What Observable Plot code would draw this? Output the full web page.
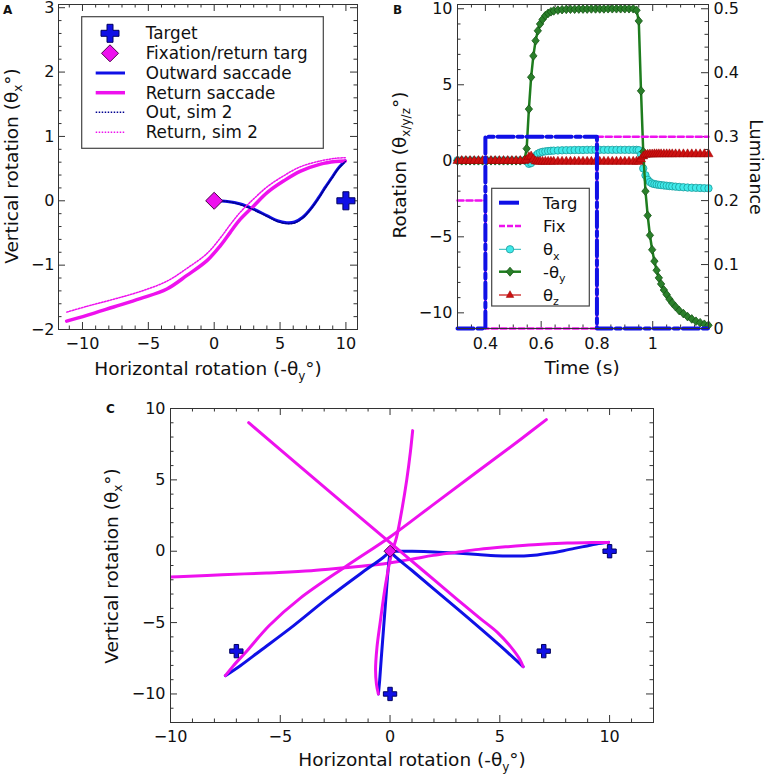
<!DOCTYPE html>
<html><head><meta charset="utf-8">
<script src="https://cdn.jsdelivr.net/npm/d3@7"></script>
<script src="https://cdn.jsdelivr.net/npm/@observablehq/plot@0.6"></script>
<style>
body{margin:0;background:#fff;}
#chart{position:relative;width:768px;height:775px;background:#fff;overflow:hidden;font-family:"DejaVu Sans",sans-serif;}
#chart svg{position:absolute;}
</style></head><body><div id="chart"></div>
<script>
// ---------- Panel A data ----------
const outX = [0, 1.0, 2.0, 3.0, 4.0, 4.8, 5.5, 6.1, 6.7, 7.3, 7.9, 8.4, 8.9, 9.4, 9.95];
const outY = [0, -0.01, -0.05, -0.13, -0.23, -0.31, -0.34, -0.33, -0.26, -0.13, 0.04, 0.2, 0.35, 0.5, 0.62];
const outSim2Y = [0, -0.01, -0.06, -0.14, -0.24, -0.32, -0.355, -0.345, -0.27, -0.14, 0.03, 0.19, 0.34, 0.49, 0.61];
const retX = [9.95, 9.2, 8.07, 6.56, 5.29, 4.04, 3.0, 1.97, 1.22, 0.46, -0.55, -2.07, -3.59, -5.62, -7.64, -9.67, -11.2];
const retY = [0.62, 0.61, 0.57, 0.46, 0.31, 0.13, -0.08, -0.29, -0.49, -0.70, -0.93, -1.16, -1.37, -1.52, -1.65, -1.78, -1.87];
const retSim2Y = [0.67, 0.66, 0.62, 0.53, 0.39, 0.22, 0.03, -0.18, -0.37, -0.58, -0.82, -1.05, -1.25, -1.41, -1.53, -1.64, -1.73];
const targetA = [10, 0];
const fixA = [0, 0];

// ---------- Panel B data ----------
const tB = [0.3, 0.315, 0.33, 0.345, 0.36, 0.375, 0.39, 0.405, 0.42, 0.435, 0.45, 0.465, 0.48, 0.495, 0.51, 0.525, 0.54,
  0.548, 0.556, 0.564, 0.572, 0.58, 0.588, 0.596, 0.605, 0.615, 0.625, 0.635, 0.645, 0.66, 0.675,
  0.69, 0.705, 0.72, 0.735, 0.75, 0.765, 0.78, 0.795, 0.81, 0.825, 0.84, 0.855, 0.87, 0.885, 0.9, 0.915, 0.93, 0.942,
  0.95, 0.958, 0.966, 0.974, 0.982, 0.99, 0.998, 1.006, 1.014, 1.022, 1.03, 1.04, 1.05, 1.06, 1.07, 1.082, 1.095, 1.11, 1.125, 1.14, 1.155, 1.17, 1.185, 1.2];
const thetaX = [0.03, 0.03, 0.03, 0.03, 0.03, 0.03, 0.03, 0.03, 0.03, 0.03, 0.03, 0.03, 0.03, 0.03, 0.03, 0.03, 0.03,
  0.0, -0.2, -0.15, 0.1, 0.32, 0.46, 0.54, 0.59, 0.62, 0.64, 0.66, 0.67, 0.68, 0.69,
  0.7, 0.7, 0.71, 0.71, 0.71, 0.72, 0.72, 0.72, 0.72, 0.72, 0.72, 0.72, 0.72, 0.72, 0.72, 0.72, 0.72, 0.72,
  0.7, 0.4, -0.5, -0.95, -1.25, -1.4, -1.49, -1.53, -1.56, -1.58, -1.6, -1.62, -1.64, -1.66, -1.68, -1.7, -1.72, -1.74, -1.76, -1.77, -1.78, -1.79, -1.8, -1.81];
const negThetaY = [0, 0, 0, 0, 0, 0, 0, 0, 0, 0, 0, 0, 0, 0, 0, 0, 0.05,
  0.8, 3.4, 5.5, 6.9, 7.9, 8.55, 9.0, 9.3, 9.55, 9.7, 9.8, 9.86, 9.91, 9.94,
  9.96, 9.97, 9.97, 9.98, 9.98, 9.98, 9.99, 9.99, 9.99, 9.99, 10, 10, 10, 10, 10, 10, 10, 9.9,
  9.2, 4.6, 0.6, -2.0, -3.6, -4.9, -5.85, -6.6, -7.2, -7.7, -8.1, -8.5, -8.8, -9.1, -9.35, -9.6, -9.85, -10.05, -10.25, -10.4, -10.55, -10.65, -10.75, -10.82];
const thetaZ = [0, 0, 0, 0, 0, 0, 0, 0, 0, 0, 0, 0, 0, 0, 0, 0, 0,
  0.05, 0.25, 0.3, 0.1, -0.03, -0.05, -0.05, -0.05, -0.05, -0.05, -0.05, -0.05, -0.05, -0.05,
  -0.05, -0.05, -0.05, -0.05, -0.05, -0.05, -0.05, -0.05, -0.05, -0.05, -0.05, -0.05, -0.05, -0.05, -0.05, -0.05, -0.05, -0.05,
  -0.05, 0.1, 0.3, 0.4, 0.42, 0.43, 0.43, 0.44, 0.44, 0.44, 0.44, 0.44, 0.44, 0.44, 0.44, 0.44, 0.44, 0.44, 0.44, 0.44, 0.44, 0.44, 0.44, 0.44];
const lumT = [0.3, 0.4, 0.4, 0.8, 0.8, 1.2];
const targLum = [0, 0, 0.3, 0.3, 0, 0];
const fixLum = [0.2, 0.2, 0, 0, 0.3, 0.3];

// ---------- Panel C data ----------
const out2X = [0, 0.25, 1, 2, 3.5, 5, 6.06];
const out2Y = [0, -0.4, -1.35, -2.65, -4.6, -6.6, -8.09];
const ret2X = [6.06, 5.9, 5.5, 4.9, 4.1, 3, 1.5, 0, -2, -4, -6.44];
const ret2Y = [-8.09, -7.55, -6.7, -5.7, -4.7, -3.3, -1.35, 0.6, 3.2, 5.8, 9.01];
const out3X = [0, -0.3, -1.36, -2.88, -4.39, -5.91, -6.82, -7.5];
const out3Y = [0, -0.42, -1.59, -3.34, -5.21, -6.97, -8.02, -8.72];
const ret3X = [-7.5, -7.15, -6.5, -5.5, -4.1, -2, 0, 2, 4, 6, 7.12];
const ret3Y = [-8.72, -8.05, -6.95, -5.2, -3.3, -1.05, 1.0, 3.3, 5.6, 7.9, 9.22];
const out4X = [0, -0.1, -0.2, -0.3, -0.4, -0.47, -0.53];
const out4Y = [0, -1.5, -3.5, -5.5, -7.5, -9, -10];
const ret4X = [-0.53, -0.62, -0.66, -0.6, -0.45, -0.2, 0.05, 0.3, 0.55, 0.76, 0.93, 1.03];
const ret4Y = [-10, -9.3, -8.3, -6.8, -5.0, -2.3, -0.3, 1.0, 3.0, 5.0, 7.0, 8.45];
const targetsCX = [10, 7, -7, 0];
const targetsCY = [0, -7, -7, -10];

// ---------- tick labels ----------
const xTicksA = [-10, -5, 0, 5, 10], yTicksA = [-2, -1, 0, 1, 2, 3];
const xTicksB = [0.4, 0.6, 0.8, 1], yTicksB = [-10, -5, 0, 5, 10], lumTicksB = [0, 0.1, 0.2, 0.3, 0.4, 0.5];
const xTicksC = [-10, -5, 0, 5, 10], yTicksC = [-10, -5, 0, 5, 10];

// ---------- styling ----------
const BLUE = "#1010e6", MAG = "#ee11ee", NAVY = "#000090", INK = "#333";
const FONT = "DejaVu Sans";
const fmt = d => (d < 0 ? "\u2212" + Math.abs(d) : String(d));
const zip = (xs, ys) => xs.map((x, i) => ({x, y: ys[i]}));
const diamond = (wf) => ({draw(ctx, size) {
  const h = Math.sqrt(size / Math.PI) * 1.2, w = h * wf;
  ctx.moveTo(0, -h); ctx.lineTo(w, 0); ctx.lineTo(0, h); ctx.lineTo(-w, 0); ctx.closePath();
}});
const minor = (a, b, step, maj) => d3.range(Math.round(a / step), Math.round(b / step) + 1)
  .map(k => +(k * step).toFixed(6)).filter(v => Math.abs(v / maj - Math.round(v / maj)) > 1e-6);
const inside = (vals, d) => vals.filter(v => v > d[0] + 1e-9 && v < d[1] - 1e-9);

function tickRules(xd, yd, xGroups, yLeft, yRight) {
  const [x0, x1] = xd, [y0, y1] = yd, s = {stroke: INK, strokeWidth: 1};
  const out = [];
  for (const [vals, len] of xGroups) {
    const v = inside(vals, xd);
    out.push(Plot.ruleX(v, {x: d => d, y1: () => y1, y2: () => y1, insetBottom: -len, ...s}));
    out.push(Plot.ruleX(v, {x: d => d, y1: () => y0, y2: () => y0, insetTop: -len, ...s}));
  }
  for (const [vals, len] of yLeft) out.push(Plot.ruleY(inside(vals, yd), {y: d => d, x1: () => x0, x2: () => x0, insetRight: -len, ...s}));
  for (const [vals, len] of yRight) out.push(Plot.ruleY(inside(vals, yd), {y: d => d, x1: () => x1, x2: () => x1, insetLeft: -len, ...s}));
  return out;
}
const style = {fontFamily: FONT, fontSize: "16px", background: "transparent", overflow: "visible"};
const chart = document.getElementById("chart");
function place(svg, left, top) { svg.style.left = left + "px"; svg.style.top = top + "px"; chart.appendChild(svg); }

// ---------- Panel A ----------
{
  const xd = [-11.82, 10.88], yd = [-2.0, 3.05];
  const plot = Plot.plot({
    width: 380, height: 380, marginLeft: 58, marginRight: 23, marginTop: 4, marginBottom: 51,
    x: {domain: xd, axis: null}, y: {domain: yd, axis: null}, style,
    marks: [
      ...tickRules(xd, yd, [[xTicksA, 7], [minor(-12, 11, 1, 5), 3.5]], [[yTicksA, 7], [minor(-2, 3, 0.2, 1), 3.5]], [[yTicksA, 7], [minor(-2, 3, 0.2, 1), 3.5]]),
      Plot.line(zip(outX, outY), {x: "x", y: "y", stroke: BLUE, strokeWidth: 3, curve: "catmull-rom"}),
      Plot.line(zip(retX, retY), {x: "x", y: "y", stroke: MAG, strokeWidth: 3.5, curve: "catmull-rom"}),
      Plot.line(zip(outX, outSim2Y), {x: "x", y: "y", stroke: NAVY, strokeWidth: 1.5, strokeDasharray: "1.5,1.5", curve: "catmull-rom"}),
      Plot.line(zip(retX, retSim2Y), {x: "x", y: "y", stroke: MAG, strokeWidth: 1.5, strokeDasharray: "1.5,1.5", curve: "catmull-rom"}),
      Plot.dot([targetA], {x: d => d[0], y: d => d[1], symbol: "cross", r: 7.6, fill: BLUE, stroke: "#000060", strokeWidth: 1}),
      Plot.dot([fixA], {x: d => d[0], y: d => d[1], symbol: diamond(1), r: 7.1, fill: MAG, stroke: "#4a004a", strokeWidth: 1}),
      Plot.frame({stroke: INK, strokeWidth: 1}),
      Plot.text(xTicksA, {x: d => d, y: () => yd[0], text: fmt, lineAnchor: "top", dy: 8, fontSize: 16, fill: "#111"}),
      Plot.text(yTicksA, {x: () => xd[0], y: d => d, text: fmt, textAnchor: "end", dx: -4, fontSize: 16, fill: "#111"})
    ]
  });
  place(plot, 0, 0);
}

// ---------- Panel B ----------
{
  const xd = [0.3, 1.2], yd = [-11.03, 10.28];
  const R0 = -11.03, R1 = 10.0; // luminance 0 and 0.5 on the rotation axis
  const lum2rot = l => R0 + l * (R1 - R0) / 0.5;
  const tbl = tB.map((t, i) => ({t, x: thetaX[i], y: negThetaY[i], z: thetaZ[i]}));
  const targ = lumT.map((t, i) => ({t, v: lum2rot(targLum[i])}));
  const fix = lumT.map((t, i) => ({t, v: lum2rot(fixLum[i])}));
  const plot = Plot.plot({
    width: 388, height: 380, marginLeft: 77, marginRight: 60, marginTop: 4, marginBottom: 52,
    x: {domain: xd, axis: null}, y: {domain: yd, axis: null}, style,
    marks: [
      ...tickRules(xd, yd, [[xTicksB, 7], [minor(0.3, 1.2, 0.05, 0.2), 3.5]],
        [[yTicksB, 7], [minor(-11, 10, 1, 5), 3.5]],
        [[lumTicksB.map(lum2rot), 7], [minor(0, 0.5, 0.02, 0.1).map(lum2rot), 3.5]]),
      Plot.line(tbl, {x: "t", y: "x", stroke: "#22b8b8", strokeWidth: 1}),
      Plot.dot(tbl, {x: "t", y: "x", r: 3.7, fill: "#40eaea", stroke: "#1a9a9a", strokeWidth: 0.8}),
      Plot.line(tbl, {x: "t", y: "y", stroke: "#1e7d1e", strokeWidth: 2.5}),
      Plot.dot(tbl, {x: "t", y: "y", symbol: diamond(0.85), r: 3.6, fill: "#2a7f2a", stroke: "#155515", strokeWidth: 0.8}),
      Plot.line(tbl, {x: "t", y: "z", stroke: "#c81010", strokeWidth: 1.2}),
      Plot.dot(tbl, {x: "t", y: "z", symbol: "triangle", r: 3.4, fill: "#cc1111", stroke: "#990000", strokeWidth: 0.5}),
      Plot.line(fix, {x: "t", y: "v", stroke: MAG, strokeWidth: 2.5, strokeDasharray: "6,3"}),
      Plot.line(targ, {x: "t", y: "v", stroke: BLUE, strokeWidth: 4, strokeDasharray: "16,4,5,4"}),
      Plot.frame({stroke: INK, strokeWidth: 1}),
      Plot.text(xTicksB, {x: d => d, y: () => yd[0], text: fmt, lineAnchor: "top", dy: 9, fontSize: 16, fill: "#111"}),
      Plot.text(yTicksB, {x: () => xd[0], y: d => d, text: fmt, textAnchor: "end", dx: -5, fontSize: 16, fill: "#111"}),
      Plot.text(lumTicksB, {x: () => xd[1], y: d => lum2rot(d), text: d => String(d), textAnchor: "start", dx: 5, fontSize: 16, fill: "#111"})
    ]
  });
  place(plot, 380, 0);
}

// ---------- Panel C ----------
{
  const xd = [-10, 12], yd = [-12, 10];
  const pairs = [[outX, outY, retX, retY], [out2X, out2Y, ret2X, ret2Y], [out3X, out3Y, ret3X, ret3Y], [out4X, out4Y, ret4X, ret4Y]];
  const lines = [];
  for (const [ox, oy, rx, ry] of pairs) {
    lines.push(Plot.line(zip(ox, oy), {x: "x", y: "y", stroke: BLUE, strokeWidth: 3, curve: "catmull-rom", clip: true}));
    lines.push(Plot.line(zip(rx, ry), {x: "x", y: "y", stroke: MAG, strokeWidth: 3, curve: "catmull-rom", clip: true}));
  }
  const plot = Plot.plot({
    width: 768, height: 395, marginLeft: 170, marginRight: 115, marginTop: 28, marginBottom: 53,
    x: {domain: xd, axis: null}, y: {domain: yd, axis: null}, style,
    marks: [
      ...tickRules(xd, yd, [[xTicksC, 7], [minor(-10, 12, 1, 5), 3.5]], [[yTicksC, 7], [minor(-12, 10, 1, 5), 3.5]], [[yTicksC, 7], [minor(-12, 10, 1, 5), 3.5]]),
      ...lines,
      Plot.dot(zip(targetsCX, targetsCY), {x: "x", y: "y", symbol: "cross", r: 5.6, fill: BLUE, stroke: "#000060", strokeWidth: 1}),
      Plot.dot([fixA], {x: d => d[0], y: d => d[1], symbol: diamond(1), r: 5, fill: MAG, stroke: "#4a004a", strokeWidth: 1}),
      Plot.frame({stroke: INK, strokeWidth: 1}),
      Plot.text(xTicksC, {x: d => d, y: () => yd[0], text: fmt, lineAnchor: "top", dy: 8, fontSize: 16, fill: "#111"}),
      Plot.text(yTicksC, {x: () => xd[0], y: d => d, text: fmt, textAnchor: "end", dx: -5, fontSize: 16, fill: "#111"})
    ]
  });
  place(plot, 0, 380);
}

// ---------- overlay: titles, panel letters, legends ----------
const sub = (s, fs = 12) => `<tspan dy="4.5" font-size="${fs}">${s}</tspan><tspan dy="-4.5">`;
const TF = 18.5;
const ov = `
<svg xmlns="http://www.w3.org/2000/svg" width="768" height="775" style="left:0;top:0" font-family="${FONT}" fill="#111">
  <text x="3" y="14" font-size="12" font-weight="bold">A</text>
  <text x="393" y="13.5" font-size="12" font-weight="bold">B</text>
  <text x="106" y="413" font-size="12" font-weight="bold">C</text>
  <text transform="translate(17.5,166) rotate(-90)" text-anchor="middle" font-size="${TF}">Vertical rotation (θ${sub("x")}°)</tspan></text>
  <text x="208" y="375" text-anchor="middle" font-size="${TF}">Horizontal rotation (-θ${sub("y")}°)</tspan></text>
  <text transform="translate(405.5,165) rotate(-90)" text-anchor="middle" font-size="${TF}">Rotation (θ${sub("x/y/z")}°)</tspan></text>
  <text x="582" y="374" text-anchor="middle" font-size="${TF}">Time (s)</text>
  <text transform="translate(750,167) rotate(90)" text-anchor="middle" font-size="17.5">Luminance</text>
  <text transform="translate(117.5,566) rotate(-90)" text-anchor="middle" font-size="${TF}">Vertical rotation (θ${sub("x")}°)</tspan></text>
  <text x="412" y="766" text-anchor="middle" font-size="${TF}">Horizontal rotation (-θ${sub("y")}°)</tspan></text>

  <rect x="81.7" y="16.7" width="241.6" height="131.6" fill="#fff" stroke="#444" stroke-width="1.2"/>
  <path transform="translate(110,33.3)" d="M-9,-3h6v-6h6v6h6v6h-6v6h-6v-6h-6z" fill="${BLUE}" stroke="#000060"/>
  <path transform="translate(110,53.3)" d="M0,-8.5L8.5,0L0,8.5L-8.5,0Z" fill="${MAG}" stroke="#4a004a"/>
  <line x1="95.7" x2="125" y1="73" y2="73" stroke="${BLUE}" stroke-width="3"/>
  <line x1="95.7" x2="125" y1="92.7" y2="92.7" stroke="${MAG}" stroke-width="3.5"/>
  <line x1="95.7" x2="125" y1="112.3" y2="112.3" stroke="${NAVY}" stroke-width="1.5" stroke-dasharray="1.5,1.5"/>
  <line x1="95.7" x2="125" y1="132.3" y2="132.3" stroke="${MAG}" stroke-width="1.5" stroke-dasharray="1.5,1.5"/>
  <g font-size="16.8">
    <text x="145.7" y="39">Target</text>
    <text x="145.7" y="59">Fixation/return targ</text>
    <text x="145.7" y="78.8">Outward saccade</text>
    <text x="145.7" y="98.5">Return saccade</text>
    <text x="145.7" y="118">Out, sim 2</text>
    <text x="145.7" y="138">Return, sim 2</text>
  </g>

  <rect x="491.7" y="188.3" width="97.6" height="117.7" fill="#fff" stroke="#444" stroke-width="1.2"/>
  <line x1="499" x2="519" y1="202.7" y2="202.7" stroke="${BLUE}" stroke-width="4"/>
  <line x1="499" x2="521" y1="226" y2="226" stroke="${MAG}" stroke-width="2.5" stroke-dasharray="6,2"/>
  <line x1="499" x2="521" y1="249.3" y2="249.3" stroke="#22b8b8" stroke-width="1"/>
  <circle cx="510" cy="249.3" r="3.7" fill="#40eaea" stroke="#1a9a9a" stroke-width="0.8"/>
  <line x1="499" x2="521" y1="271.7" y2="271.7" stroke="#1e7d1e" stroke-width="2.5"/>
  <path transform="translate(510,271.7)" d="M0,-4.5L3.8,0L0,4.5L-3.8,0Z" fill="#2a7f2a" stroke="#155515" stroke-width="0.8"/>
  <line x1="499" x2="521" y1="295" y2="295" stroke="#c81010" stroke-width="1.2"/>
  <path transform="translate(510,295)" d="M0,-4.3L3.8,2.4L-3.8,2.4Z" fill="#cc1111" stroke="#990000" stroke-width="0.5"/>
  <g font-size="16.5">
    <text x="543" y="208.5">Targ</text>
    <text x="543" y="231.8">Fix</text>
    <text x="543" y="255">θ${sub("x", 11)}</tspan></text>
    <text x="543" y="277.5">-θ${sub("y", 11)}</tspan></text>
    <text x="543" y="300.8">θ${sub("z", 11)}</tspan></text>
  </g>
</svg>`;
chart.insertAdjacentHTML("beforeend", ov);
</script></body></html>
